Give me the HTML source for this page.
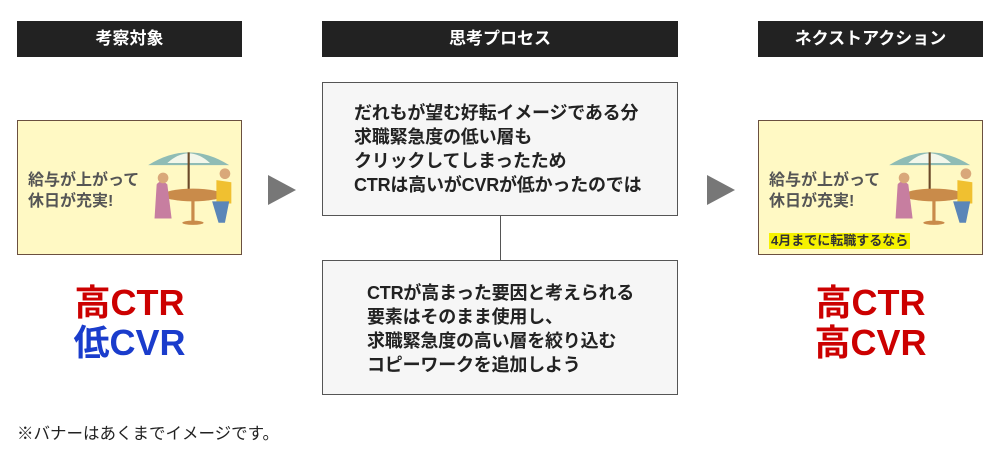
<!DOCTYPE html>
<html><head><meta charset="utf-8"><style>
*{margin:0;padding:0;box-sizing:border-box}
body{width:1000px;height:450px;background:#fff;position:relative;overflow:hidden;font-family:"Liberation Sans","Noto Sans CJK JP",sans-serif;font-weight:bold}
.a{position:absolute}
.hd{background:#222;color:#fff;font-size:17px;text-align:center;line-height:36px;top:21px;height:36px}
.box{background:#f6f6f6;border:1px solid #555;left:322px;width:356px;font-size:18px;line-height:24px;color:#222;letter-spacing:-0.2px}
.ban{background:#fff9c4;border:1px solid #6b5040;width:225px;height:135px;top:120px}
.bt{font-size:16px;color:#555;line-height:21px}
.big{font-size:36px;line-height:40px;text-align:center;width:225px}
.tri{width:0;height:0;border-top:15px solid transparent;border-bottom:15px solid transparent;border-left:28px solid #777;top:175px}
</style></head><body>
<div class="a hd" style="left:17px;width:225px">考察対象</div>
<div class="a hd" style="left:322px;width:356px">思考プロセス</div>
<div class="a hd" style="left:758px;width:225px">ネクストアクション</div>

<svg width="0" height="0" style="position:absolute"><defs><g id="ill">
<path d="M2 22 Q40 -2 78 22 Z" fill="#8fbcb5"/><path d="M20 20 Q40 2 60 20 Z" fill="#f3f7ea"/>
<line x1="40" y1="10" x2="40" y2="50" stroke="#6b4a2a" stroke-width="2"/>
<ellipse cx="44" cy="50" rx="28" ry="6" fill="#c98b4a"/>
<line x1="44" y1="55" x2="44" y2="75" stroke="#c98b4a" stroke-width="3"/>
<ellipse cx="44" cy="76" rx="10" ry="2" fill="#c98b4a"/>
<path d="M10 40 Q14 35 20 40 L24 72 L8 72 Z" fill="#c77ea0"/><circle cx="16" cy="34" r="5" fill="#d9a87a"/>
<path d="M66 36 L80 38 L80 58 L66 58 Z" fill="#f0c030"/><circle cx="74" cy="30" r="5" fill="#d9a87a"/>
<path d="M62 56 L78 56 L74 76 L68 76 Z" fill="#5a86b8"/>
</g></defs></svg>

<div class="a ban" style="left:17px">
<div class="a bt" style="left:10px;top:49px">給与が上がって<br>休日が充実!</div>
<svg class="a" style="left:128px;top:20px" width="96" height="92" viewBox="0 0 90 85"><use href="#ill"/></svg>
</div>
<div class="a ban" style="left:758px">
<div class="a bt" style="left:10px;top:49px">給与が上がって<br>休日が充実!</div>
<svg class="a" style="left:128px;top:20px" width="96" height="92" viewBox="0 0 90 85"><use href="#ill"/></svg>
<div class="a" style="left:10px;top:112px;background:#f6f200;color:#333;font-size:13px;line-height:16px;padding:0 2px">4月までに転職するなら</div>
</div>

<div class="a big" style="left:17px;top:283px;color:#cc0000">高CTR</div>
<div class="a big" style="left:17px;top:323px;color:#1a3ccc">低CVR</div>
<div class="a big" style="left:758px;top:283px;color:#cc0000">高CTR</div>
<div class="a big" style="left:758px;top:323px;color:#cc0000">高CVR</div>

<div class="a tri" style="left:268px"></div>
<div class="a tri" style="left:707px"></div>

<div class="a box" style="top:82px;height:134px;padding:18px 0 0 31px">だれもが望む好転イメージである分<br>求職緊急度の低い層も<br>クリックしてしまったため<br>CTRは高いがCVRが低かったのでは</div>
<div class="a" style="left:500px;top:216px;width:1px;height:44px;background:#555"></div>
<div class="a box" style="top:260px;height:135px;padding:20px 0 0 44px">CTRが高まった要因と考えられる<br>要素はそのまま使用し、<br>求職緊急度の高い層を絞り込む<br>コピーワークを追加しよう</div>

<div class="a" style="left:17px;top:420px;font-size:16.5px;font-weight:normal;color:#222">※バナーはあくまでイメージです。</div>
</body></html>
